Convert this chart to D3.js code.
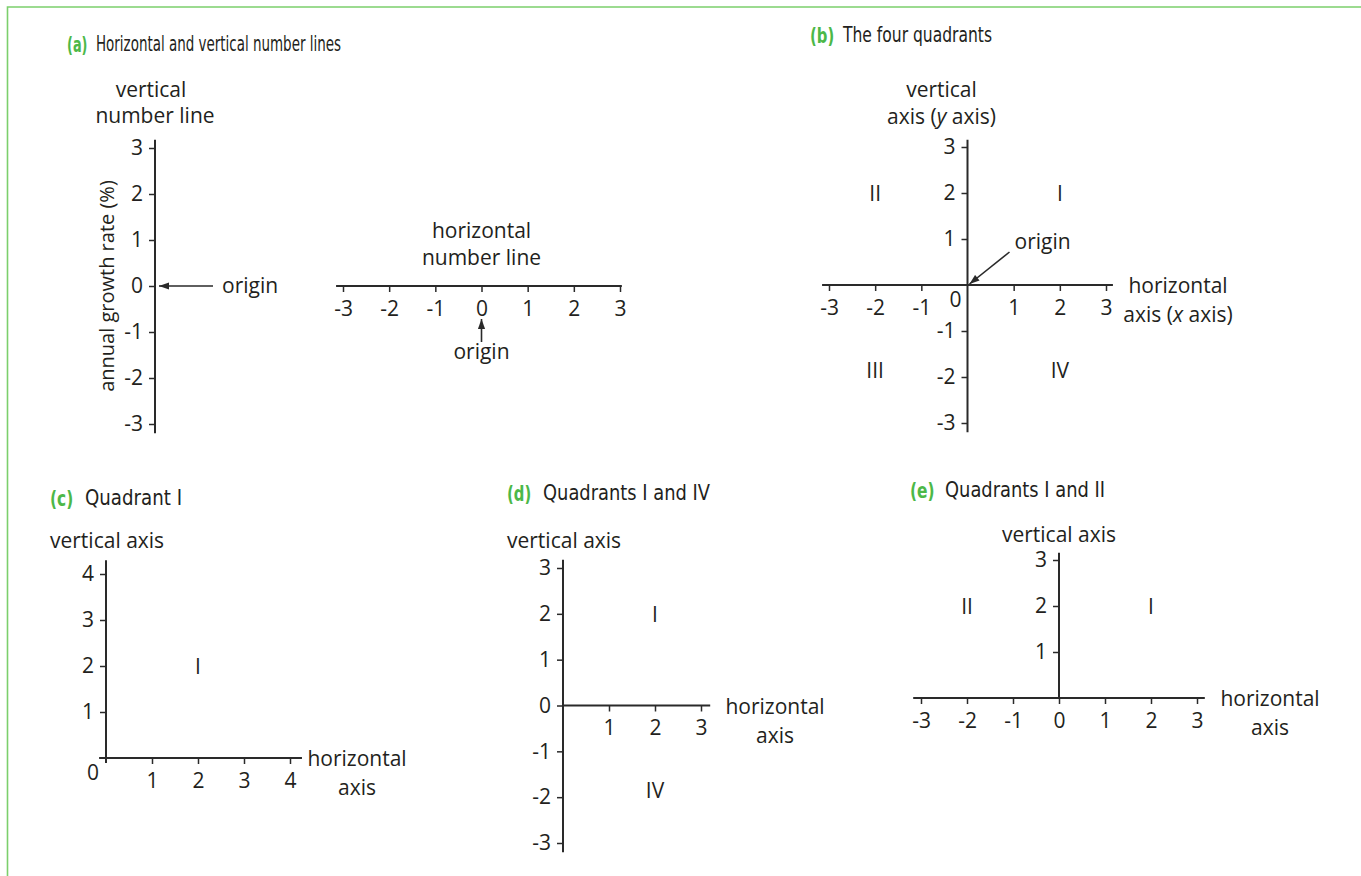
<!DOCTYPE html>
<html><head><meta charset="utf-8">
<script src="https://cdn.jsdelivr.net/npm/d3@7"></script>
<style>
body{margin:0;background:#fff}
svg text{font-family:"Open Sans",sans-serif;font-size:21px;fill:#231f20}
svg text.ylab{font-size:20px}
svg text.title{font-family:"DejaVu Sans Condensed","Liberation Sans Narrow",sans-serif;font-size:22px}
svg text.tag{font-family:"DejaVu Sans Condensed","Liberation Sans Narrow",sans-serif;font-size:22px;fill:#4cb848;font-weight:bold}
</style></head><body>
<svg id="c" width="1361" height="876"></svg>
<script>
// ---------- data ----------
const panelTags   = ["(a)", "(b)", "(c)", "(d)", "(e)"];
const panelTitles = ["Horizontal and vertical number lines", "The four quadrants",
                     "Quadrant I", "Quadrants I and IV", "Quadrants I and II"];
const ticksA  = [-3, -2, -1, 0, 1, 2, 3];
const ticksB  = [-3, -2, -1, 1, 2, 3];
const ticksC  = [1, 2, 3, 4];
const ticksDx = [1, 2, 3];
const ticksDy = [-3, -2, -1, 0, 1, 2, 3];
const ticksEx = [-3, -2, -1, 0, 1, 2, 3];
const ticksEy = [1, 2, 3];
const quadB = [{q: "II", x: -2, y: 2}, {q: "I", x: 2, y: 2}, {q: "III", x: -2, y: -1.85}, {q: "IV", x: 2, y: -1.85}];
const quadC = [{q: "I", x: 2, y: 2}];
const quadD = [{q: "I", x: 2, y: 2}, {q: "IV", x: 2, y: -1.85}];
const quadE = [{q: "II", x: -2, y: 2}, {q: "I", x: 2, y: 2}];

// ---------- drawing ----------
const svg = d3.select("#c");
const INK = "#2a2a2a";

// frame
svg.append("path").attr("d", "M1361,7 H7.5 V876")
  .attr("fill", "none").attr("stroke", "#7ccf6c").attr("stroke-width", 1.6);

// arrow marker
svg.append("defs").append("marker").attr("id", "arr")
  .attr("viewBox", "0 -4 10 8").attr("refX", 10).attr("refY", 0)
  .attr("markerUnits", "userSpaceOnUse").attr("markerWidth", 11).attr("markerHeight", 8)
  .attr("orient", "auto")
  .append("path").attr("d", "M0,-3.6L10,0L0,3.6Z").attr("fill", INK);

function title(i, x, y, tx, sx, w) {
  svg.append("text").attr("class", "tag")
    .attr("transform", `translate(${x},${y + 1}) scale(${sx},1)`).text(panelTags[i]);
  svg.append("text").attr("class", "title").attr("x", tx).attr("y", y)
    .attr("textLength", w).attr("lengthAdjust", "spacingAndGlyphs").text(panelTitles[i]);
}
function line(x1, y1, x2, y2, w) {
  return svg.append("line").attr("x1", x1).attr("y1", y1).attr("x2", x2).attr("y2", y2)
    .attr("stroke", INK).attr("stroke-width", w || 2);
}
function vAxis(scale, x, ticks, ext) {
  line(x, scale(ext[0]), x, scale(ext[1]));
  const g = svg.append("g").attr("transform", `translate(${x},0)`)
    .call(d3.axisLeft(scale).tickValues(ticks).tickSize(6).tickPadding(6).tickFormat(String));
  g.select(".domain").remove();
  g.selectAll(".tick line").attr("stroke", INK).attr("stroke-width", 1.5);
}
function hAxis(scale, y, ticks, ext) {
  line(scale(ext[0]), y, scale(ext[1]), y);
  const g = svg.append("g").attr("transform", `translate(0,${y})`)
    .call(d3.axisBottom(scale).tickValues(ticks).tickSize(6).tickPadding(9).tickFormat(String));
  g.select(".domain").remove();
  g.selectAll(".tick line").attr("stroke", INK).attr("stroke-width", 1.5);
}
function text(x, y, s, anchor) {
  return svg.append("text").attr("x", x).attr("y", y).attr("text-anchor", anchor || "start").text(s);
}
function quads(data, xs, ys) {
  svg.append("g").selectAll("text").data(data).join("text")
    .attr("x", d => xs(d.x)).attr("y", d => ys(d.y))
    .attr("text-anchor", "middle").attr("dominant-baseline", "central").text(d => d.q);
}

// ----- (a) -----
title(0, 67, 51, 96, 0.65, 245);
const yA = d3.scaleLinear().domain([-3, 3]).range([424, 148]);
const axAx = 155;
vAxis(yA, axAx, ticksA, [-3.2, 3.18]);
text(axAx - 4, 97, "vertical", "middle");
text(axAx, 123, "number line", "middle");
svg.append("text").attr("class", "ylab").attr("transform", `translate(114,${yA(0)}) rotate(-90)`)
  .attr("text-anchor", "middle").text("annual growth rate (%)");
line(axAx + 58, yA(0), axAx + 4, yA(0), 1.6).attr("marker-end", "url(#arr)");
text(axAx + 67, yA(0) + 7, "origin");

const xA = d3.scaleLinear().domain([-3, 3]).range([343, 620]);
const hy = yA(0);
hAxis(xA, hy, ticksA, [-3.15, 3.04]);
text(xA(0), hy - 48, "horizontal", "middle");
text(xA(0), hy - 21, "number line", "middle");
line(xA(0), hy + 56, xA(0), hy + 33, 1.6).attr("marker-end", "url(#arr)");
text(xA(0), hy + 73, "origin", "middle");

// ----- (b) -----
title(1, 810, 42, 843, 0.75, 149);
const xB = d3.scaleLinear().domain([-3, 3]).range([829, 1106]);
const yB = d3.scaleLinear().domain([-3, 3]).range([423, 147]);
vAxis(yB, xB(0), ticksB, [-3.2, 3.16]);
hAxis(xB, yB(0), ticksB, [-3.15, 3.15]);
text(xB(0) - 12, yB(0) + 22, "0", "middle");
text(xB(0) - 26, 97, "vertical", "middle");
const tb = text(xB(0) - 26, 124, "axis (", "middle");
tb.append("tspan").attr("font-style", "italic").text("y");
tb.append("tspan").text(" axis)");
text(1178, yB(0) + 8, "horizontal", "middle");
const tbx = text(1178, yB(0) + 37, "axis (", "middle");
tbx.append("tspan").attr("font-style", "italic").text("x");
tbx.append("tspan").text(" axis)");
quads(quadB, xB, yB);
line(xB(0) + 42, yB(0) - 33, xB(0) + 2, yB(0) - 1, 1.6).attr("marker-end", "url(#arr)");
text(xB(0) + 47, yB(0) - 36, "origin");

// ----- (c) -----
title(2, 50, 505, 85, 0.78, 97);
const xC = d3.scaleLinear().domain([0, 4]).range([106, 290]);
const yC = d3.scaleLinear().domain([0, 4]).range([758, 574]);
vAxis(yC, xC(0), ticksC, [-0.11, 4.3]);
hAxis(xC, yC(0), ticksC, [-0.15, 4.26]);
text(xC(0) - 13, yC(0) + 22, "0", "middle");
text(50, 548, "vertical axis");
text(357, yC(0) + 8, "horizontal", "middle");
text(357, yC(0) + 37, "axis", "middle");
quads(quadC, xC, yC);

// ----- (d) -----
title(3, 507, 500, 543, 0.75, 167);
const xD = d3.scaleLinear().domain([0, 3]).range([563, 701]);
const yD = d3.scaleLinear().domain([-3, 3]).range([843, 568]);
vAxis(yD, xD(0), ticksDy, [-3.2, 3.18]);
hAxis(xD, yD(0), ticksDx, [0, 3.2]);
text(507, 548, "vertical axis");
text(775, yD(0) + 8, "horizontal", "middle");
text(775, yD(0) + 37, "axis", "middle");
quads(quadD, xD, yD);

// ----- (e) -----
title(4, 910, 497, 945, 0.78, 160);
const xE = d3.scaleLinear().domain([-3, 3]).range([921, 1197]);
const yE = d3.scaleLinear().domain([0, 3]).range([698, 560]);
vAxis(yE, xE(0), ticksEy, [0, 3.16]);
hAxis(xE, yE(0), ticksEx, [-3.17, 3.17]);
text(xE(0), 542, "vertical axis", "middle");
text(1270, yE(0) + 8, "horizontal", "middle");
text(1270, yE(0) + 37, "axis", "middle");
quads(quadE, xE, yE);
</script></body></html>
